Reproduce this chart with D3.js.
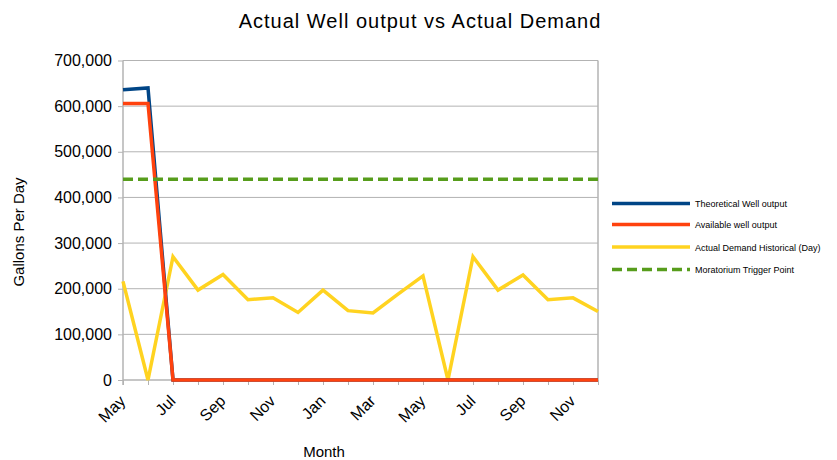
<!DOCTYPE html>
<html><head><meta charset="utf-8">
<script src="https://cdn.jsdelivr.net/npm/d3@7"></script>
<style>body{margin:0;background:#fff}svg{display:block;font-family:"Liberation Sans",Arial,sans-serif}</style>
</head><body><svg id="c" width="837" height="460"></svg>
<script>
const months = ["May","Jun","Jul","Aug","Sep","Oct","Nov","Dec","Jan","Feb","Mar","Apr","May","Jun","Jul","Aug","Sep","Oct","Nov","Dec"];
const theoretical = [636000,640000,0,0,0,0,0,0,0,0,0,0,0,0,0,0,0,0,0,0];
const available = [606000,606000,0,0,0,0,0,0,0,0,0,0,0,0,0,0,0,0,0,0];
const demand = [216000,0,270000,197000,231000,176000,180000,148000,197000,152000,147000,188000,228000,0,270000,197000,230000,176000,180000,150000];
const moratorium = [440000,440000,440000,440000,440000,440000,440000,440000,440000,440000,440000,440000,440000,440000,440000,440000,440000,440000,440000,440000];
const yTicks = [0,100000,200000,300000,400000,500000,600000,700000];
const seriesNames = ["Theoretical Well output","Available well output","Actual Demand Historical (Day)","Moratorium Trigger Point"];
const seriesColors = ["#004586","#ff420e","#ffd320","#579d1c"];

const svg = d3.select("#c");
const L = 123, R = 598, T = 60.5, B = 380;
const idx = months.map((d,i)=>i);
const x = d3.scalePoint().domain(idx).range([L,R]);
const y = d3.scaleLinear().domain([0,700000]).range([B,T]);
const fmt = d3.format(",");

// grid
svg.append("g").selectAll("line").data(yTicks.filter(d=>d>0)).join("line")
  .attr("x1",L).attr("x2",R).attr("y1",d=>y(d)).attr("y2",d=>y(d))
  .attr("stroke","#b3b3b3").attr("stroke-width",1);
// right border
svg.append("line").attr("x1",R).attr("x2",R).attr("y1",T).attr("y2",B)
  .attr("stroke","#b3b3b3").attr("stroke-width",1.5);

// y axis
const ya = svg.append("g").attr("transform",`translate(${L},0)`)
  .call(d3.axisLeft(y).tickValues(yTicks).tickFormat(fmt).tickSize(5).tickPadding(6));
ya.select(".domain").attr("stroke","#b3b3b3").attr("stroke-width",1.5).attr("d",`M0,${T}V${B+5}`);
ya.selectAll(".tick line").attr("stroke","#b3b3b3");
ya.selectAll("text").attr("font-size",16).attr("fill","#000").attr("font-family","Liberation Sans, Arial, sans-serif");

// x axis
const xa = svg.append("g").attr("transform",`translate(0,${B})`)
  .call(d3.axisBottom(x).tickSize(5).tickFormat(i => i%2===0 ? months[i] : ""));
xa.select(".domain").attr("stroke","#b3b3b3").attr("stroke-width",1.5).attr("d",`M${L},0H${R}`);
xa.selectAll(".tick line").attr("stroke","#b3b3b3");
xa.selectAll("text").attr("font-size",16).attr("fill","#000").attr("font-family","Liberation Sans, Arial, sans-serif")
  .attr("text-anchor","end").attr("dy",0).attr("y",0)
  .attr("transform","translate(3,22) rotate(-45)");

// lines
const line = d3.line().x((d,i)=>x(i)).y(d=>y(d));
const data = [theoretical, available, demand, moratorium];
[2,0,1].forEach(k=>{
  svg.append("path").datum(data[k]).attr("d",line).attr("fill","none")
    .attr("stroke",seriesColors[k]).attr("stroke-width",3.5).attr("stroke-linejoin","miter");
});
svg.append("path").datum(moratorium).attr("d",line).attr("fill","none")
  .attr("stroke",seriesColors[3]).attr("stroke-width",3.5).attr("stroke-dasharray","10,5");

// title
svg.append("text").attr("x",420).attr("y",28).attr("text-anchor","middle")
  .attr("font-size",20).attr("letter-spacing",1).text("Actual Well output vs Actual Demand");
svg.append("text").attr("x",324).attr("y",457).attr("text-anchor","middle")
  .attr("font-size",15).text("Month");
svg.append("text").attr("transform","translate(24,232) rotate(-90)").attr("text-anchor","middle")
  .attr("font-size",15).text("Gallons Per Day");

// legend
const ly = [203.5,224.5,247,269.5];
const lg = svg.append("g");
seriesNames.forEach((n,k)=>{
  const ln = lg.append("line").attr("x1",612).attr("x2",690).attr("y1",ly[k]).attr("y2",ly[k])
    .attr("stroke",seriesColors[k]).attr("stroke-width",3.5);
  if(k===3) ln.attr("stroke-dasharray","10,5");
  lg.append("text").attr("x",695).attr("y",ly[k]+3.5).attr("font-size",9).text(n);
});
</script></body></html>
